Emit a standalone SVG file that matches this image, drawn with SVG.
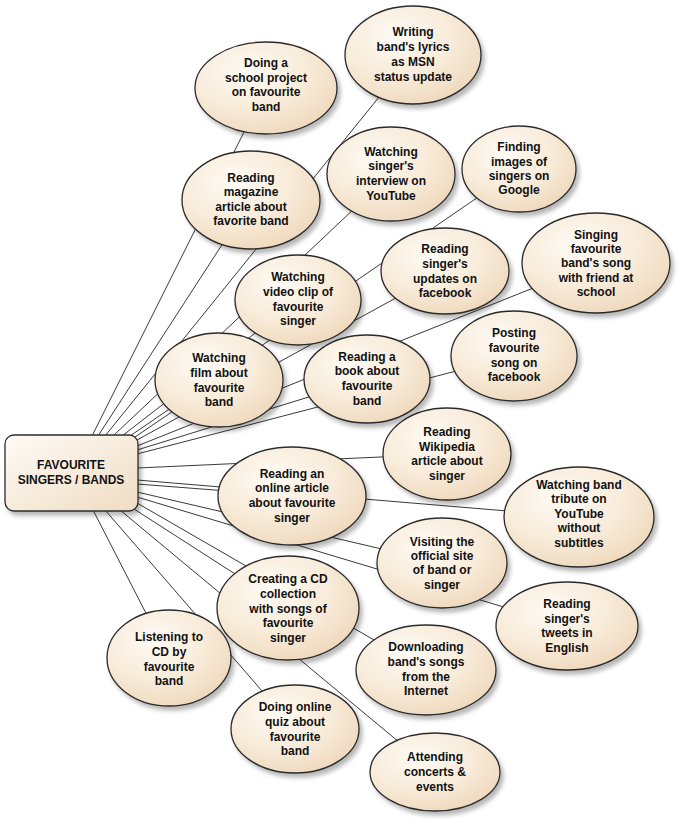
<svg xmlns="http://www.w3.org/2000/svg" width="685" height="823" viewBox="0 0 685 823">
<defs>
<radialGradient id="fill" cx="0.38" cy="0.32" r="0.75">
<stop offset="0" stop-color="#fefbf5"/>
<stop offset="0.55" stop-color="#f8ebd9"/>
<stop offset="1" stop-color="#eed7ba"/>
</radialGradient>
<linearGradient id="boxfill" x1="0" y1="0" x2="1" y2="1">
<stop offset="0" stop-color="#fefbf6"/>
<stop offset="1" stop-color="#f0dcc2"/>
</linearGradient>
<filter id="sh" x="-20%" y="-20%" width="150%" height="150%">
<feDropShadow dx="3" dy="4" stdDeviation="2.2" flood-color="#000" flood-opacity="0.28"/>
</filter>
</defs>
<style>
.n ellipse{fill:url(#fill);stroke:#2b2b2b;stroke-width:1.3;filter:url(#sh)}
.n text,.c text{font-family:"Liberation Sans",Arial,sans-serif;font-weight:bold;font-size:12px;fill:#111;text-anchor:middle}
#connectors line{stroke:#3a3a3a;stroke-width:1}
</style>
<rect width="685" height="823" fill="#fff"/>
<g id="connectors">
<line x1="92" y1="436" x2="266" y2="88"/>
<line x1="98" y1="436" x2="251" y2="200"/>
<line x1="105" y1="436" x2="413" y2="55"/>
<line x1="113" y1="436" x2="391" y2="174"/>
<line x1="122" y1="436" x2="298" y2="300"/>
<line x1="130" y1="436" x2="519" y2="169"/>
<line x1="135" y1="437" x2="219" y2="380"/>
<line x1="137" y1="440" x2="445" y2="271"/>
<line x1="137" y1="446" x2="596" y2="263"/>
<line x1="137" y1="450" x2="367" y2="379"/>
<line x1="137" y1="454" x2="514" y2="356"/>
<line x1="137" y1="468" x2="447" y2="454"/>
<line x1="137" y1="480" x2="579" y2="517"/>
<line x1="137" y1="484" x2="292" y2="496"/>
<line x1="137" y1="492" x2="442" y2="563"/>
<line x1="137" y1="497" x2="567" y2="626"/>
<line x1="137" y1="503" x2="426" y2="670"/>
<line x1="134" y1="509" x2="288" y2="608"/>
<line x1="120" y1="510" x2="435" y2="772"/>
<line x1="105" y1="510" x2="295" y2="729"/>
<line x1="93" y1="510" x2="169" y2="658"/>
</g>
<g id="center" class="c">
<rect x="5" y="435" width="133" height="76" rx="9" fill="url(#boxfill)" stroke="#2b2b2b" stroke-width="1.3" filter="url(#sh)"/>
<text x="71" y="469">FAVOURITE</text>
<text x="71" y="484">SINGERS / BANDS</text>
</g>
<g id="school-project" class="n"><ellipse cx="266" cy="88" rx="71" ry="46"/>
<text x="266" y="67">Doing a</text><text x="266" y="82">school project</text><text x="266" y="96">on favourite</text><text x="266" y="111">band</text></g>
<g id="msn-lyrics" class="n"><ellipse cx="413" cy="55" rx="68" ry="49"/>
<text x="413" y="36">Writing</text><text x="413" y="51">band's lyrics</text><text x="413" y="66">as MSN</text><text x="413" y="81">status update</text></g>
<g id="magazine" class="n"><ellipse cx="251" cy="200" rx="69" ry="49"/>
<text x="251" y="182">Reading</text><text x="251" y="196">magazine</text><text x="251" y="211">article about</text><text x="251" y="225">favorite band</text></g>
<g id="interview" class="n"><ellipse cx="391" cy="174" rx="64" ry="47"/>
<text x="391" y="156">Watching</text><text x="391" y="170">singer's</text><text x="391" y="185">interview on</text><text x="391" y="200">YouTube</text></g>
<g id="google-images" class="n"><ellipse cx="519" cy="169" rx="57" ry="43"/>
<text x="519" y="151">Finding</text><text x="519" y="166">images of</text><text x="519" y="180">singers on</text><text x="519" y="194">Google</text></g>
<g id="fb-updates" class="n"><ellipse cx="445" cy="271" rx="64" ry="43"/>
<text x="445" y="253">Reading</text><text x="445" y="268">singer's</text><text x="445" y="283">updates on</text><text x="445" y="297">facebook</text></g>
<g id="singing" class="n"><ellipse cx="596" cy="263" rx="74" ry="50"/>
<text x="596" y="239">Singing</text><text x="596" y="253">favourite</text><text x="596" y="267">band's song</text><text x="596" y="282">with friend at</text><text x="596" y="296">school</text></g>
<g id="video-clip" class="n"><ellipse cx="298" cy="300" rx="63" ry="45"/>
<text x="298" y="281">Watching</text><text x="298" y="296">video clip of</text><text x="298" y="311">favourite</text><text x="298" y="325">singer</text></g>
<g id="film" class="n"><ellipse cx="219" cy="380" rx="64" ry="47"/>
<text x="219" y="362">Watching</text><text x="219" y="377">film about</text><text x="219" y="392">favourite</text><text x="219" y="406">band</text></g>
<g id="book" class="n"><ellipse cx="367" cy="379" rx="63" ry="44"/>
<text x="367" y="361">Reading a</text><text x="367" y="375">book about</text><text x="367" y="390">favourite</text><text x="367" y="405">band</text></g>
<g id="posting" class="n"><ellipse cx="514" cy="356" rx="63" ry="45"/>
<text x="514" y="337">Posting</text><text x="514" y="352">favourite</text><text x="514" y="367">song on</text><text x="514" y="381">facebook</text></g>
<g id="wikipedia" class="n"><ellipse cx="447" cy="454" rx="64" ry="46"/>
<text x="447" y="436">Reading</text><text x="447" y="451">Wikipedia</text><text x="447" y="465">article about</text><text x="447" y="480">singer</text></g>
<g id="online-article" class="n"><ellipse cx="292" cy="496" rx="74" ry="49"/>
<text x="292" y="478">Reading an</text><text x="292" y="492">online article</text><text x="292" y="507">about favourite</text><text x="292" y="522">singer</text></g>
<g id="tribute" class="n"><ellipse cx="579" cy="517" rx="75" ry="50"/>
<text x="579" y="489">Watching band</text><text x="579" y="503">tribute on</text><text x="579" y="518">YouTube</text><text x="579" y="532">without</text><text x="579" y="547">subtitles</text></g>
<g id="official-site" class="n"><ellipse cx="442" cy="563" rx="65" ry="45"/>
<text x="442" y="546">Visiting the</text><text x="442" y="560">official site</text><text x="442" y="574">of band or</text><text x="442" y="589">singer</text></g>
<g id="tweets" class="n"><ellipse cx="567" cy="626" rx="71" ry="44"/>
<text x="567" y="608">Reading</text><text x="567" y="623">singer's</text><text x="567" y="637">tweets in</text><text x="567" y="652">English</text></g>
<g id="cd-collection" class="n"><ellipse cx="288" cy="608" rx="71" ry="52"/>
<text x="288" y="583">Creating a CD</text><text x="288" y="598">collection</text><text x="288" y="613">with songs of</text><text x="288" y="627">favourite</text><text x="288" y="642">singer</text></g>
<g id="listening" class="n"><ellipse cx="169" cy="658" rx="62" ry="48"/>
<text x="169" y="641">Listening to</text><text x="169" y="656">CD by</text><text x="169" y="671">favourite</text><text x="169" y="685">band</text></g>
<g id="downloading" class="n"><ellipse cx="426" cy="670" rx="70" ry="45"/>
<text x="426" y="651">Downloading</text><text x="426" y="666">band's songs</text><text x="426" y="681">from the</text><text x="426" y="695">Internet</text></g>
<g id="online-quiz" class="n"><ellipse cx="295" cy="729" rx="64" ry="44"/>
<text x="295" y="711">Doing online</text><text x="295" y="726">quiz about</text><text x="295" y="741">favourite</text><text x="295" y="755">band</text></g>
<g id="concerts" class="n"><ellipse cx="435" cy="772" rx="65" ry="39"/>
<text x="435" y="761">Attending</text><text x="435" y="776">concerts &amp;</text><text x="435" y="791">events</text></g>
</svg>
